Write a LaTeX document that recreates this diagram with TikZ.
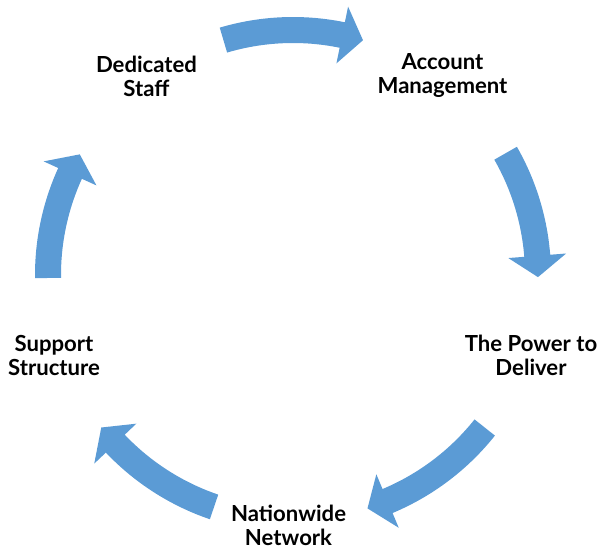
\documentclass[tikz,border=0pt]{standalone}
\usepackage{fontspec}
\setmainfont{Lato}
\definecolor{cycleblue}{HTML}{5B9BD5}

\begin{document}
\begin{tikzpicture}[x=0.75pt, y=0.75pt,
    stage/.style={align=center, font=\bfseries\fontsize{16.6}{18}\selectfont, text=black}]
    \useasboundingbox (-293,-274) rectangle (305,275);

    % Labels round the cycle
    \node[stage] (staff)   at (-146.5,199)  {Dedicated\\Staff};
    \node[stage] (account) at (149.5,199)   {Account\\Management};
    \node[stage] (power)   at (238,-80)     {The Power to\\Deliver};
    \node[stage] (network) at (-4.5,-250)   {Nationwide\\Network};
    \node[stage] (support) at (-239,-80)    {Support\\Structure};

    % Curved block arrows, clockwise (tail angle / tip angle)
    \foreach \tailang/\tipang in {106.5/73.4, 29.8/-0.5, -38.5/-72.3, -108.8/-141.5, 180.7/150.5} {
        \pgfmathsetmacro{\baseang}{\tipang+5}
        \fill[cycleblue] (\tailang:258) arc[start angle=\tailang, end angle=\baseang, radius=258]
            -- (\baseang:274) -- (\tipang:245) -- (\baseang:216) -- (\baseang:232)
            arc[start angle=\baseang, end angle=\tailang, radius=232] -- cycle;
    }
\end{tikzpicture}
\end{document}
